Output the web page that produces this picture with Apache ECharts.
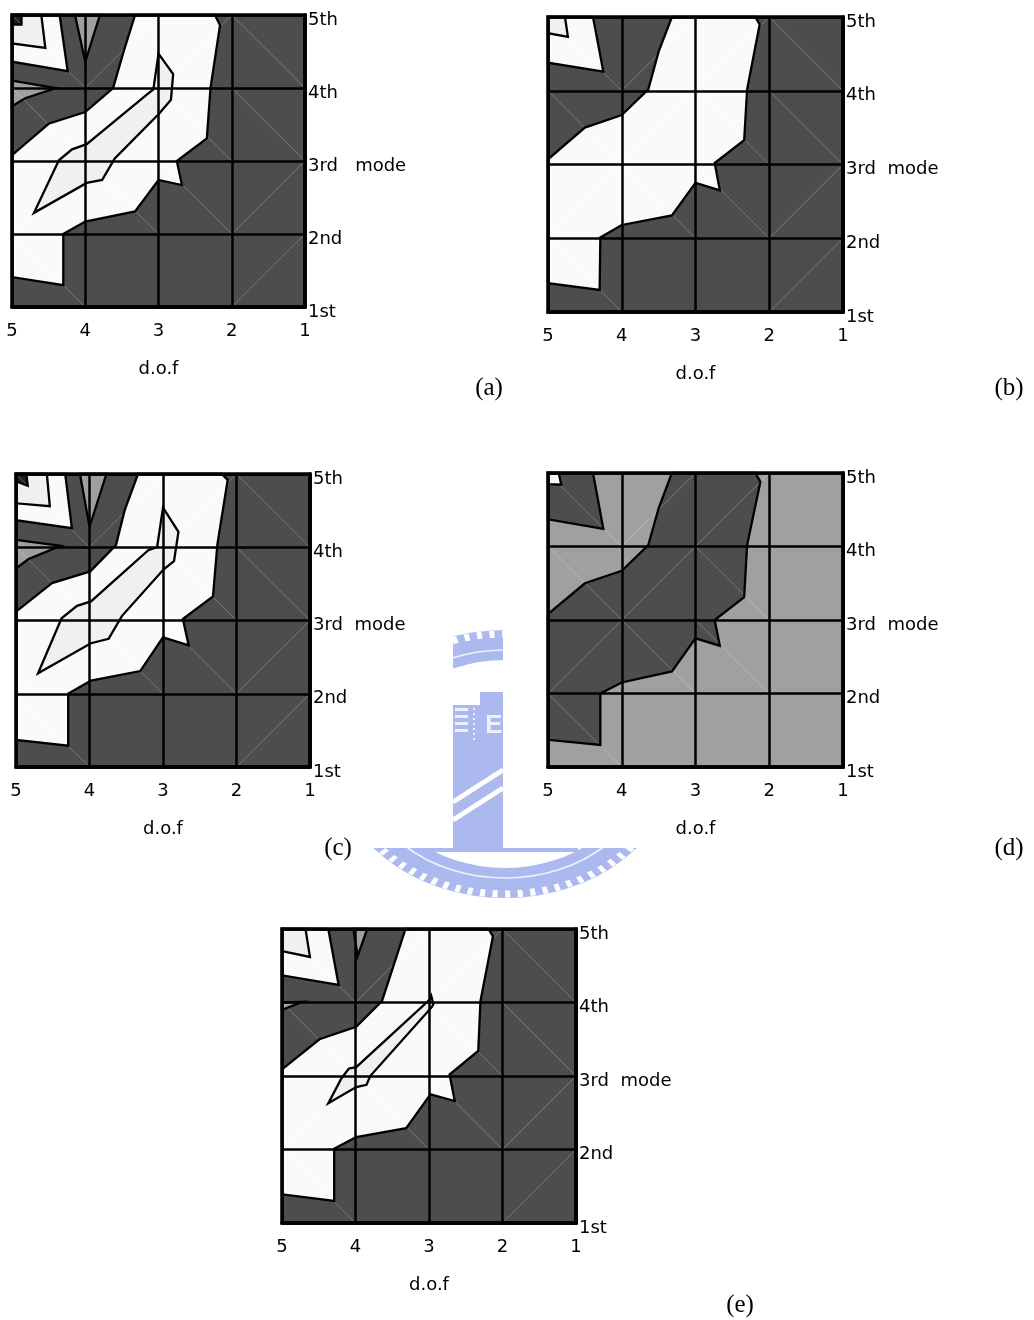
<!DOCTYPE html>
<html><head><meta charset="utf-8">
<script src="https://cdn.jsdelivr.net/npm/echarts@6/dist/echarts.min.js"></script>
<style>html,body{margin:0;padding:0;background:#fff}#c{width:1034px;height:1320px}</style>
</head><body><div id="c"></div>
<script>
// ---- tick labels ----
const xTickValues = [5, 4, 3, 2, 1];
const yTickLabels = ['1st', '2nd', '3rd  mode', '4th', '5th'];
const yTickLabelsWide = ['1st', '2nd', '3rd   mode', '4th', '5th'];
const xAxisName = 'd.o.f';
const panelLetters = ['(a)', '(b)', '(c)', '(d)', '(e)'];

// ---- contour regions, [d.o.f, mode] ----
// panel (a)
const aWhite = [[3.32,5],[3.47,4.52],[3.62,4.0],[4.0,3.67],[4.5,3.51],[5,3.08],[5,1.41],[4.3,1.3],[4.3,2.0],[4.0,2.17],[3.32,2.31],[3.0,2.74],[2.68,2.67],[2.75,3.0],[2.34,3.31],[2.29,4.0],[2.16,4.86],[2.23,5]];
const aInner = [[3.0,4.47],[2.8,4.19],[2.83,3.84],[2.99,3.65],[3.6,3.03],[3.77,2.74],[3.98,2.7],[4.7,2.29],[4.36,3.01],[4.18,3.16],[3.98,3.23],[3.16,3.91],[3.07,3.98]];
const aCornerWhite = [[5,5],[4.35,5],[4.24,4.23],[5,4.36]];
const aCornerLight = [[5,5],[4.6,5],[4.545,4.55],[5,4.61]];
const aCornerDark = [[5,5],[4.87,5],[4.87,4.87],[5,4.87]];
const aGrayTop = [[4.14,5],[3.8,5],[4.0,4.36]];
const aGrayLeft = [[5,4.1],[4.4,4.0],[4.82,3.86],[5,3.75]];
// panel (b)
const bWhite = [[3.32,5],[3.5,4.53],[3.64,4.02],[4.0,3.67],[4.5,3.5],[5,3.07],[5,1.39],[4.3,1.3],[4.29,2.01],[4.0,2.18],[3.32,2.31],[3.0,2.75],[2.67,2.65],[2.74,3.02],[2.34,3.33],[2.3,4.02],[2.13,4.9],[2.19,5]];
const bCornerWhite = [[5,5],[4.39,5],[4.25,4.26],[5,4.38]];
const bCornerLight = [[5,5],[4.77,5],[4.73,4.73],[5,4.78]];
// panel (c)
const cWhite = [[3.34,5],[3.52,4.51],[3.64,4.03],[3.99,3.67],[4.51,3.51],[5,3.12],[5,1.37],[4.29,1.29],[4.29,2.0],[3.98,2.18],[3.31,2.31],[3.0,2.77],[2.65,2.66],[2.73,3.02],[2.32,3.33],[2.26,4.04],[2.12,4.92],[2.2,5]];
const cInner = [[3.0,4.54],[2.79,4.21],[2.85,3.81],[2.99,3.7],[3.56,3.06],[3.74,2.75],[3.98,2.69],[4.7,2.28],[4.38,3.03],[4.17,3.2],[3.98,3.26],[3.2,3.96],[3.08,4.0]];
const cCornerWhite = [[5,5],[4.33,5],[4.24,4.26],[5,4.37]];
const cCornerLight = [[5,5],[4.58,5],[4.54,4.56],[5,4.6]];
const cCornerDark = [[5,5],[4.86,5],[4.84,4.84],[5,4.9]];
const cGrayTop = [[4.13,5],[3.77,5],[4.0,4.28]];
const cGrayLeft = [[5,4.1],[4.39,4.02],[4.83,3.84],[5,3.71]];
// panel (d)
const dDark = [[3.32,5],[3.5,4.52],[3.64,4.02],[4.0,3.67],[4.5,3.5],[5,3.08],[5,1.37],[4.29,1.3],[4.29,2.0],[4.0,2.15],[3.32,2.3],[3.0,2.75],[2.67,2.65],[2.74,3.0],[2.34,3.31],[2.3,4.02],[2.12,4.88],[2.19,5]];
const dCornerDark = [[5,5],[4.39,5],[4.25,4.24],[5,4.37]];
const dCornerWhite = [[5,5],[4.855,5],[4.82,4.84],[5,4.85]];
// panel (e)
const eWhite = [[3.32,5],[3.47,4.54],[3.64,4.02],[3.99,3.67],[4.49,3.5],[5,3.09],[5,1.39],[4.29,1.3],[4.29,2.01],[3.99,2.17],[3.31,2.29],[2.98,2.75],[2.65,2.66],[2.72,3.02],[2.33,3.34],[2.3,4.02],[2.13,4.9],[2.19,5]];
const eInner = [[2.97,4.09],[2.94,3.98],[2.96,3.94],[3.8,3.0],[3.85,2.88],[3.99,2.85],[4.37,2.63],[4.19,2.97],[4.09,3.1],[3.99,3.12],[2.99,4.04]];
const eCornerWhite = [[5,5],[4.37,5],[4.23,4.24],[5,4.37]];
const eCornerLight = [[5,5],[4.68,5],[4.62,4.62],[5,4.7]];
const eGrayTop = [[4.03,5],[3.84,5],[3.97,4.63]];
const eGrayLeft = [[5,4.0],[4.72,4.01],[5,3.9]];
// triangulation seams (cell diagonals)
const seams = [[[5,5],[4,4]],[[4,4],[3,5]],[[3,4],[2,5]],[[2,5],[1,4]],
  [[5,4],[4,3]],[[4,3],[3,4]],[[3,4],[2,3]],[[2,4],[1,3]],
  [[5,2],[4,3]],[[4,3],[3,2]],[[3,3],[2,2]],[[2,2],[1,3]],
  [[5,2],[4,1]],[[2,1],[1,2]]];
const dSeams = [[[5,5],[4,4]],[[4,4],[3,5]],[[3,4],[2,5]],
  [[5,4],[4,3]],[[4,3],[3,4]],[[3,4],[2,3]],
  [[5,2],[4,3]],[[4,3],[3,2]],[[3,3],[2,2]],
  [[5,2],[4,1]]];

// ---- styles / layout ----
const FILL = {dark:'#4d4d4d', white:'#fafafa', light:'#f0f0f0', gray:'#a0a0a0', black:'#222222'};
const FONT = 'DejaVu Sans';
const panels = [
  {box:{left:12, top:15, width:293, height:292}, bg:'dark', letterAt:[489,388], yLabels:yTickLabelsWide, seams:seams,
   layers:[['white',aWhite],['light',aInner],['white',aCornerWhite],['light',aCornerLight],['black',aCornerDark],['gray',aGrayTop],['gray',aGrayLeft]]},
  {box:{left:548, top:17, width:295, height:295}, bg:'dark', letterAt:[1009,388], yLabels:yTickLabels, seams:seams,
   layers:[['white',bWhite],['white',bCornerWhite],['light',bCornerLight]]},
  {box:{left:16, top:474, width:294, height:293}, bg:'dark', letterAt:[338,848], yLabels:yTickLabels, seams:seams,
   layers:[['white',cWhite],['light',cInner],['white',cCornerWhite],['light',cCornerLight],['black',cCornerDark],['gray',cGrayTop],['gray',cGrayLeft]]},
  {box:{left:548, top:473, width:295, height:294}, bg:'gray', letterAt:[1009,848], yLabels:yTickLabels, seams:dSeams,
   layers:[['dark',dDark],['dark',dCornerDark],['white',dCornerWhite]]},
  {box:{left:282, top:929, width:294, height:294}, bg:'dark', letterAt:[740,1305], yLabels:yTickLabels, seams:seams,
   layers:[['white',eWhite],['light',eInner],['white',eCornerWhite],['light',eCornerLight],['gray',eGrayTop],['gray',eGrayLeft]]}
];
const X0 = xTickValues[0], X1 = xTickValues[xTickValues.length-1];
const frame = [[X0,5],[X1,5],[X1,1],[X0,1]];

const grid = [], xAxis = [], yAxis = [], series = [], graphic = [];
panels.forEach((p, i) => {
  grid.push(Object.assign({show:true, backgroundColor:FILL[p.bg], borderWidth:0}, p.box));
  xAxis.push({gridIndex:i, type:'value', min:X1, max:X0, interval:1, inverse:true, z:10,
    axisLine:{show:true, onZero:false, lineStyle:{color:'#000', width:3.5}},
    axisTick:{show:false},
    axisLabel:{margin:15, color:'#000', fontFamily:FONT, fontSize:18},
    splitLine:{show:true, lineStyle:{color:'#000', width:2.5}},
    name:xAxisName, nameLocation:'middle', nameGap:53,
    nameTextStyle:{color:'#000', fontFamily:FONT, fontSize:18}});
  const yl = p.yLabels;
  yAxis.push({gridIndex:i, type:'value', min:1, max:5, interval:1, position:'right', z:10,
    axisLine:{show:true, onZero:false, lineStyle:{color:'#000', width:3.5}},
    axisTick:{show:false},
    axisLabel:{margin:3, color:'#000', fontFamily:FONT, fontSize:18, verticalAlign:'top', lineHeight:10,
      formatter:v => yl[Math.round(v)-1]},
    splitLine:{show:true, lineStyle:{color:'#000', width:2.5}}});
  const layers = p.layers, sm = p.seams;
  series.push({type:'custom', coordinateSystem:'cartesian2d', xAxisIndex:i, yAxisIndex:i, z:2, silent:true, animation:false,
    data: layers.map(() => [3,3]),
    renderItem:(params, api) => {
      const L = layers[params.dataIndex];
      return {type:'polygon', shape:{points:L[1].map(pt => api.coord(pt))}, style:{fill:FILL[L[0]]}};
    }});
  series.push({type:'custom', coordinateSystem:'cartesian2d', xAxisIndex:i, yAxisIndex:i, z:3, silent:true, animation:false,
    data: sm.map(() => [3,3]),
    renderItem:(params, api) => {
      const s = sm[params.dataIndex];
      const a = api.coord(s[0]), b = api.coord(s[1]);
      return {type:'line', shape:{x1:a[0], y1:a[1], x2:b[0], y2:b[1]}, style:{stroke:'rgba(255,255,255,0.25)', lineWidth:1}};
    }});
  series.push({type:'custom', coordinateSystem:'cartesian2d', xAxisIndex:i, yAxisIndex:i, z:4, silent:true, animation:false,
    data: layers.map(() => [3,3]).concat([[3,3]]),
    renderItem:(params, api) => {
      if (params.dataIndex === layers.length) {
        return {type:'polygon', shape:{points:frame.map(pt => api.coord(pt))}, style:{fill:'none', stroke:'#000', lineWidth:3.5}};
      }
      const L = layers[params.dataIndex];
      return {type:'polygon', shape:{points:L[1].map(pt => api.coord(pt))}, style:{fill:'none', stroke:'#000', lineWidth:2.3, lineJoin:'miter'}};
    }});
  graphic.push({type:'text', x:p.letterAt[0], y:p.letterAt[1], z:20,
    style:{text:panelLetters[i], fill:'#000', font:'25px "Liberation Serif", "Times New Roman", serif', textAlign:'center', textVerticalAlign:'middle'}});
});

// faded watermark (decorative)
const WM = '#acb9ef';
const WL = '#eef1fd';
graphic.push(
  {type:'ring', x:505, y:764, scaleX:1.26, z:-3, shape:{cx:0, cy:0, r:134, r0:104}, style:{fill:WM}},
  {type:'circle', x:505, y:764, scaleX:1.26, z:-3, shape:{cx:0, cy:0, r:130}, style:{fill:'none', stroke:'#fff', lineWidth:7, lineDash:[4,6]}},
  {type:'circle', x:505, y:764, scaleX:1.26, z:-3, shape:{cx:0, cy:0, r:114}, style:{fill:'none', stroke:WL, lineWidth:1.5}},
  {type:'rect', z:-3, shape:{x:480, y:692, width:23, height:156}, style:{fill:WM}},
  {type:'rect', z:-3, shape:{x:453, y:705, width:27, height:143}, style:{fill:WM}},
  {type:'rect', z:-3, shape:{x:427, y:846, width:151, height:6}, style:{fill:WM}},
  {type:'rect', z:-3, shape:{x:455, y:708, width:13, height:3}, style:{fill:WL}},
  {type:'rect', z:-3, shape:{x:455, y:715, width:13, height:3}, style:{fill:WL}},
  {type:'rect', z:-3, shape:{x:455, y:722, width:13, height:3}, style:{fill:WL}},
  {type:'rect', z:-3, shape:{x:455, y:729, width:13, height:3}, style:{fill:WL}},
  {type:'line', z:-3, shape:{x1:474, y1:708, x2:474, y2:740}, style:{stroke:WL, lineWidth:2, lineDash:[2,3]}},
  {type:'text', z:-3, x:494, y:726, style:{text:'E', fill:WL, font:'bold 26px "Liberation Sans", sans-serif', textAlign:'center', textVerticalAlign:'middle'}},
  {type:'line', z:-3, shape:{x1:453, y1:802, x2:503, y2:770}, style:{stroke:'#fff', lineWidth:5}},
  {type:'line', z:-3, shape:{x1:453, y1:820, x2:503, y2:788}, style:{stroke:'#fff', lineWidth:5}},
  {type:'rect', z:-2, shape:{x:0, y:0, width:453, height:848}, style:{fill:'#fff'}},
  {type:'rect', z:-2, shape:{x:503, y:0, width:531, height:848}, style:{fill:'#fff'}}
);

const chart = echarts.init(document.getElementById('c'), null, {renderer:'canvas'});
chart.setOption({animation:false, backgroundColor:'#fff', grid, xAxis, yAxis, series, graphic});
</script></body></html>
